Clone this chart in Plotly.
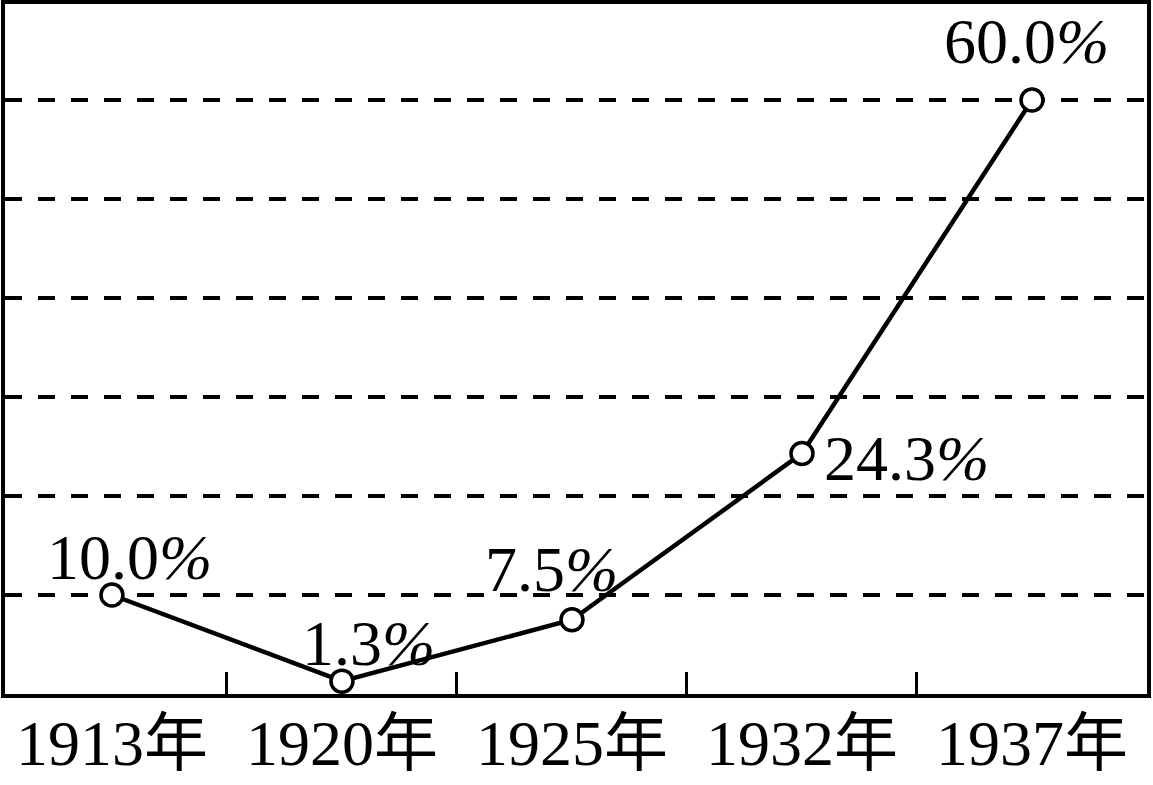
import plotly.graph_objects as go

years = ["1913年", "1920年", "1925年", "1932年", "1937年"]
values = [10.0, 1.3, 7.5, 24.3, 60.0]
labels = ["10.0%", "1.3%", "7.5%", "24.3%", "60.0%"]

FONT = "Liberation Serif, 'Times New Roman', 'Noto Sans CJK SC', serif"

fig = go.Figure()
fig.add_trace(go.Scatter(
    x=years, y=values, mode="lines+markers",
    line=dict(color="black", width=4.5),
    marker=dict(symbol="circle", size=22, color="white", line=dict(color="black", width=3.5)),
    cliponaxis=False, showlegend=False, hoverinfo="skip",
))

# label offsets (pixels) relative to each point
shifts = [(18, 38), (27, 38), (-20, 50), (105, -5), (-5, 59)]
for yr, v, lab, (dx, dy) in zip(years, values, labels, shifts):
    txt = lab.replace("%", "<i>%</i>")
    fig.add_annotation(x=yr, y=v, text=txt, showarrow=False,
                       xshift=dx, yshift=dy,
                       font=dict(family=FONT, size=64, color="black"))

fig.update_xaxes(
    type="category", range=[-0.465, 4.5], automargin=False,
    showline=True, mirror=True, linecolor="black", linewidth=4,
    showgrid=False, tickson="boundaries", ticks="inside", ticklen=22,
    tickwidth=3, tickcolor="black", ticklabelstandoff=-10,
    tickfont=dict(family=FONT, size=64, color="black"),
    zeroline=False,
)
fig.update_yaxes(
    range=[0, 69.7], tickvals=[10, 20, 30, 40, 50, 60], automargin=False,
    showticklabels=False, ticks="",
    showline=True, mirror=True, linecolor="black", linewidth=4,
    showgrid=True, gridcolor="black", gridwidth=4, griddash="17px,16px",
    zeroline=False,
)
fig.update_layout(
    width=1153, height=785,
    margin=dict(l=5, r=6, t=4, b=91),
    paper_bgcolor="white", plot_bgcolor="white",
)
fig.write_html("out.html", config={"displayModeBar": False},
               post_script="document.body.style.margin='0';")
